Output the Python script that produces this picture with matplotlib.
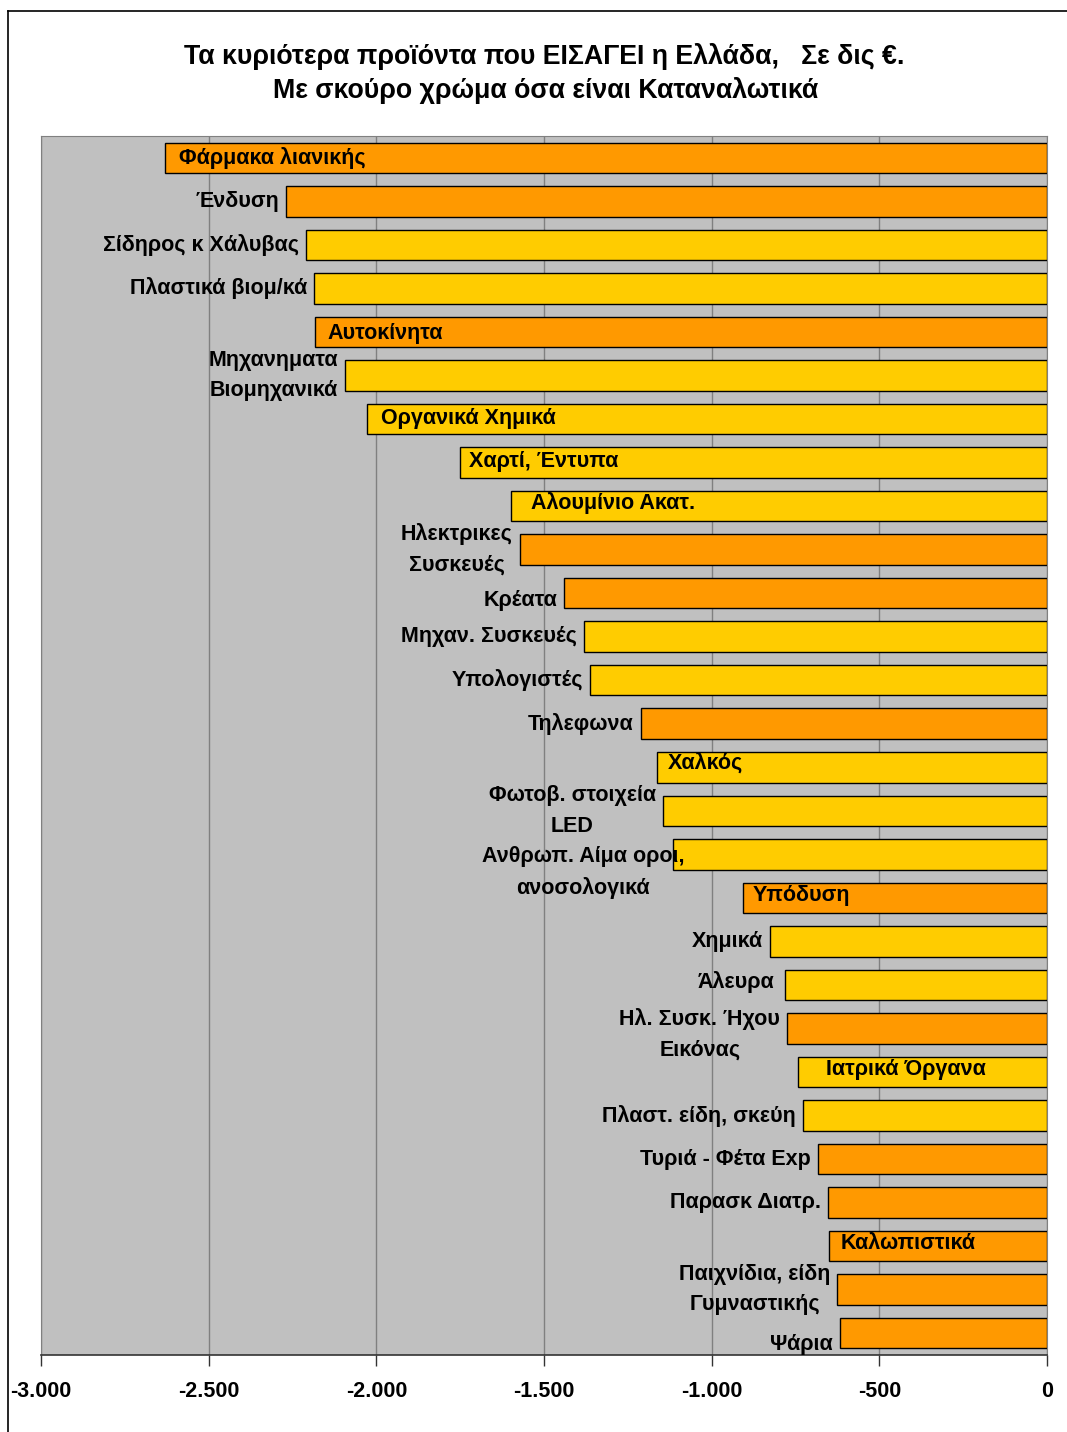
import matplotlib
matplotlib.use("Agg")
import matplotlib.pyplot as plt
from matplotlib.lines import Line2D

plt.rcParams["font.family"] = ["Liberation Sans", "DejaVu Sans"]

# ─── DATA ───────────────────────────────────────────────────
products = [
    "Φάρμακα λιανικής", "Ένδυση", "Σίδηρος κ Χάλυβας", "Πλαστικά βιομ/κά",
    "Αυτοκίνητα", "Μηχανηματα\nΒιομηχανικά", "Οργανικά Χημικά", "Χαρτί, Έντυπα",
    "Αλουμίνιο Ακατ.", "Ηλεκτρικες\nΣυσκευές", "Κρέατα", "Μηχαν. Συσκευές",
    "Υπολογιστές", "Τηλεφωνα", "Χαλκός", "Φωτοβ. στοιχεία\nLED",
    "Ανθρωπ. Αίμα οροι,\nανοσολογικά", "Υπόδυση", "Χημικά", "Άλευρα",
    "Ηλ. Συσκ. Ήχου\nΕικόνας", "Ιατρικά Όργανα", "Πλαστ. είδη, σκεύη",
    "Τυριά - Φέτα Exp", "Παρασκ Διατρ.", "Καλωπιστικά",
    "Παιχνίδια, είδη\nΓυμναστικής", "Ψάρια",
]
values = [
    -2630, -2269, -2210, -2186, -2183, -2093, -2028, -1750, -1598, -1572,
    -1440, -1381, -1363, -1211, -1163, -1145, -1115, -907, -826, -781,
    -775, -743, -728, -683, -653, -650, -626, -617,
]
# consumer goods drawn darker
consumer = [
    True, True, False, False, True, False, False, False, False, True,
    True, False, False, True, False, False, False, True, False, False,
    True, False, False, True, True, True, True, True,
]
# label drawn inside the bar
label_inside = {0, 4, 6, 7, 8, 14, 17, 21, 25}

x_ticks = [-3000, -2500, -2000, -1500, -1000, -500, 0]
x_ticklabels = ["-3.000", "-2.500", "-2.000", "-1.500", "-1.000", "-500", "0"]

# fine-tuning of a few label positions (points)
label_shift = {
    0: (10, 0), 4: (9, -1), 6: (10, 0), 7: (6, 1), 8: (14, 2), 14: (8, 3),
    16: (8, -13), 17: (7, 2), 19: (-8, 2), 20: (-5, -4), 21: (20, 2),
    25: (8, 2), 10: (-5, -5), 27: (-5, -8),
}

ORANGE = "#FF9900"
YELLOW = "#FFCC00"
colors = [ORANGE if c else YELLOW for c in consumer]

fig = plt.figure(figsize=(10.67, 14.32), dpi=100)
ax = fig.add_axes([41 / 1067, 1 - 1355 / 1432, 1006 / 1067, 1219 / 1432])
ax.set_facecolor("#C0C0C0")

ypos = list(range(len(values)))
ax.barh(ypos, values, height=0.70, color=colors, edgecolor="black",
        linewidth=1.0, zorder=3)

ax.set_xlim(-3000, 0)
ax.set_ylim(len(values) - 0.5, -0.5)
ax.set_yticks([])
ax.set_xticks(x_ticks)
ax.set_xticklabels(x_ticklabels, fontsize=15.5, fontweight="bold")
ax.tick_params(axis="x", direction="out", length=8, width=1, color="#333333", pad=11)
ax.grid(axis="x", color="#808080", linewidth=1, zorder=1)

for side in ["top", "left", "right"]:
    ax.spines[side].set_color("#808080")
ax.spines["bottom"].set_color("#333333")
ax.spines["bottom"].set_linewidth(1.2)

# ─── BAR LABELS ─────────────────────────────────────────────
for i, (name, v) in enumerate(zip(products, values)):
    if i in label_inside:
        dx, dy = label_shift.get(i, (8, 0))
        ha = "left"
    else:
        dx, dy = label_shift.get(i, (-5, 0))
        ha = "right"
    ax.annotate(name, xy=(v, i), xytext=(dx, dy), textcoords="offset points",
                ha=ha, va="center", multialignment="center",
                fontsize=15.5, fontweight="bold", color="black",
                linespacing=1.6, zorder=4, annotation_clip=False)

# ─── TITLE ──────────────────────────────────────────────────
fig.text(0.51, 1 - 57 / 1432, "Τα κυριότερα προϊόντα που ΕΙΣΑΓΕΙ η Ελλάδα,   Σε δις €.",
         ha="center", va="center", fontsize=19.3, fontweight="bold")
fig.text(0.511, 1 - 91 / 1432, "Με σκούρο χρώμα όσα είναι Καταναλωτικά",
         ha="center", va="center", fontsize=19.3, fontweight="bold")

# outer frame of the chart area
fig.add_artist(Line2D([8 / 1067, 8 / 1067], [0, 1 - 11 / 1432], color="black", lw=1.2))
fig.add_artist(Line2D([8 / 1067, 1], [1 - 11 / 1432, 1 - 11 / 1432], color="black", lw=1.2))

fig.savefig("out.png", dpi=100)
